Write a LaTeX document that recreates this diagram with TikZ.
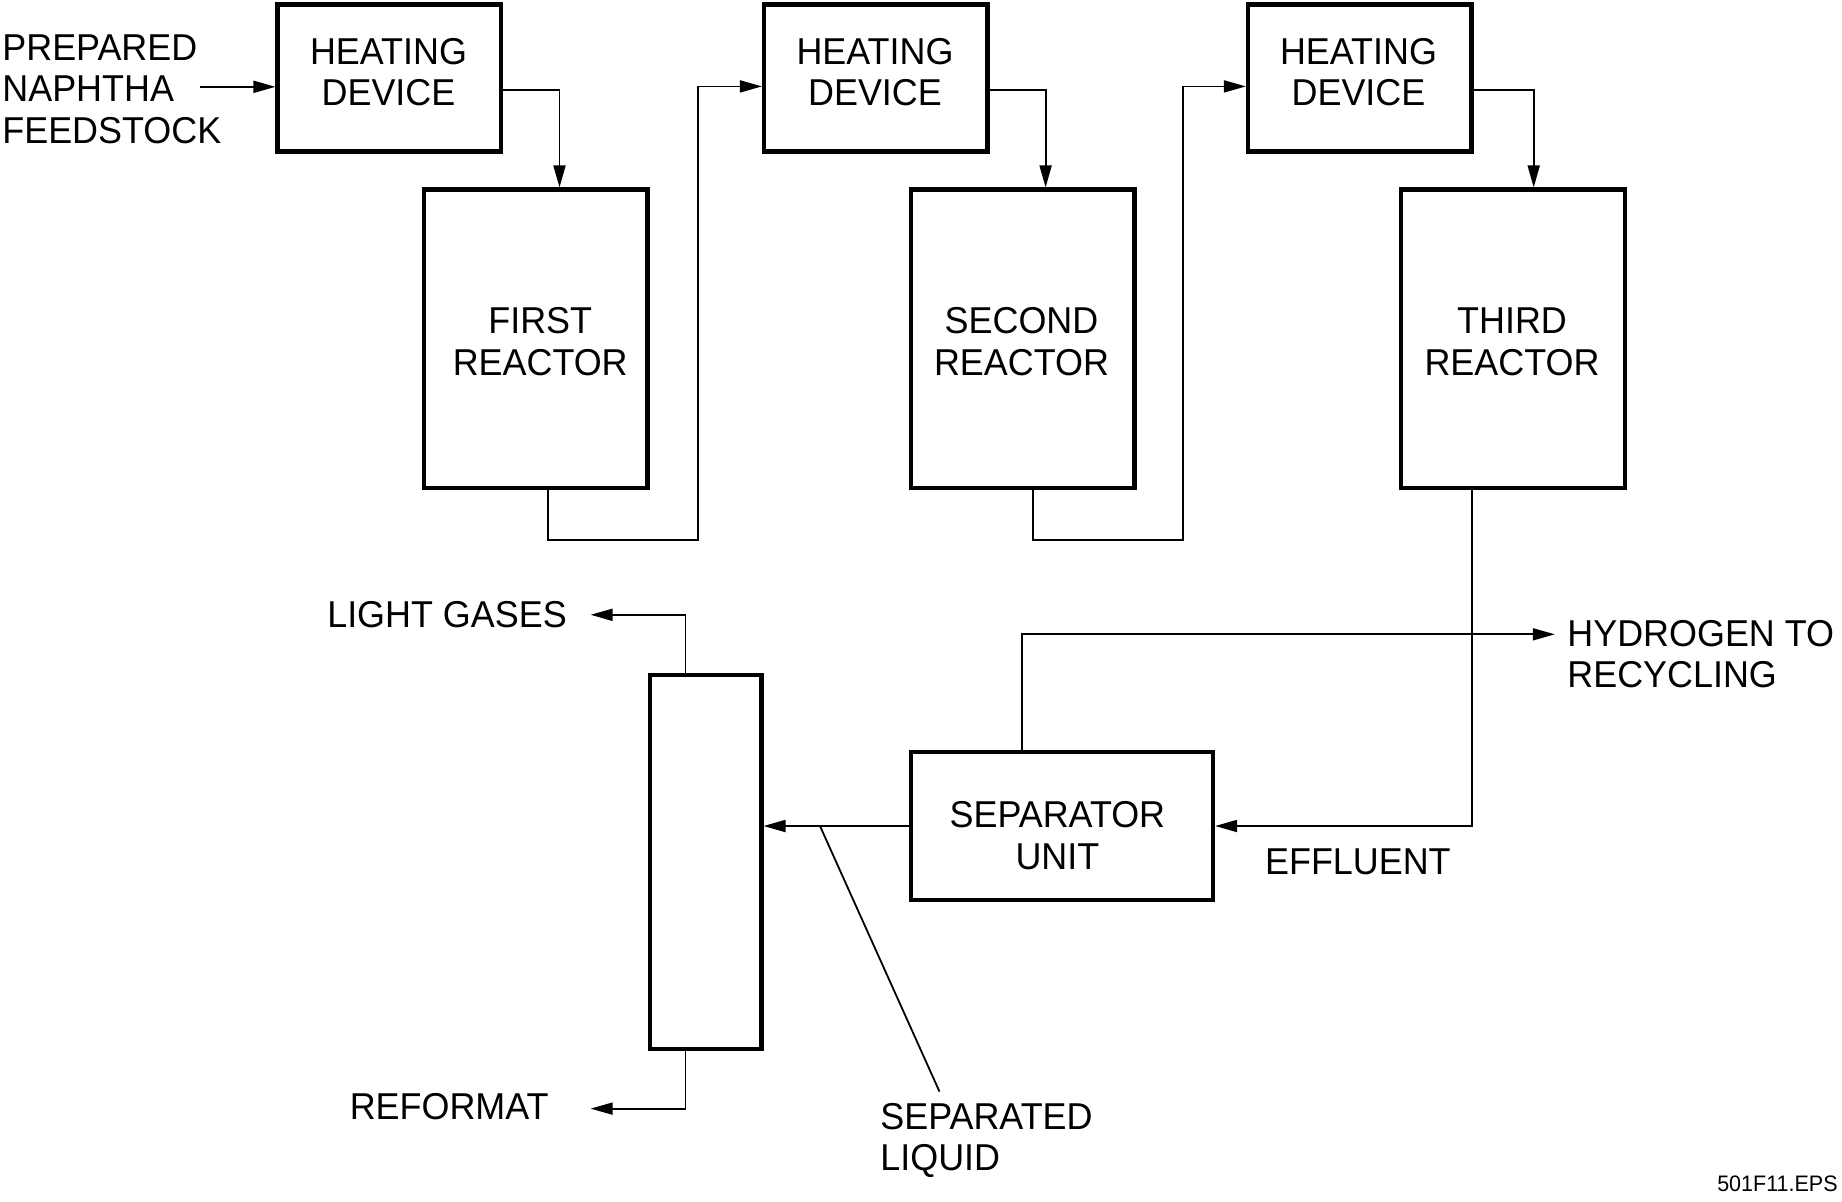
\documentclass[tikz,border=0pt]{standalone}
\usepackage{fontspec}
\setmainfont{Liberation Sans}[FakeStretch=0.96]
\usetikzlibrary{arrows.meta}
\begin{document}
\begin{tikzpicture}[x=0.5pt,y=-0.5pt,
  box/.style={draw,line width=2.1pt,inner sep=0pt,fill=white},
  heatbox/.style={box,minimum width=111.75pt,minimum height=73.5pt},
  reactbox/.style={box,minimum width=111.7pt,minimum height=149.25pt},
  colbox/.style={box,minimum width=55.7pt,minimum height=187pt},
  sepbox/.style={box,minimum width=151.1pt,minimum height=73.65pt},
  txt/.style={align=center,inner sep=0pt,font=\fontsize{18.7}{20.75}\selectfont},
  ltxt/.style={txt,align=left,anchor=west},
  flow/.style={line width=0.9pt},
  arr/.style={flow,-{Triangle[length=11pt,width=6pt]}}]
\fill[white] (0,0) rectangle (1842,1201);
\useasboundingbox (0,0) rectangle (1842,1201);

% boxes
\node[heatbox] (heat1) at (389.3,78) {};
\node[heatbox] (heat2) at (875.8,78) {};
\node[heatbox] (heat3) at (1359.7,78) {};
\node[reactbox] (r1) at (535.7,338.75) {};
\node[reactbox] (r2) at (1022.8,338.75) {};
\node[reactbox] (r3) at (1513,338.75) {};
\node[colbox] (col) at (705.7,862) {};
\node[sepbox] (sep) at (1061.9,826) {};

% box texts
\node[txt] (th1) at (388.5,72.3) {HEATING\\DEVICE};
\node[txt] (th2) at (875,72.3) {HEATING\\DEVICE};
\node[txt] (th3) at (1358.5,72.3) {HEATING\\DEVICE};
\node[txt] (tr1) at (540.2,341.7) {FIRST\\REACTOR};
\node[txt] (tr2) at (1021.5,341.7) {SECOND\\REACTOR};
\node[txt] (tr3) at (1512,341.7) {THIRD\\REACTOR};
\node[txt] (tsep) at (1057.4,835.4) {SEPARATOR\\UNIT};

% free ends
\coordinate (feed) at (199.7,86.8);
\coordinate (b1) at (697.7,540);
\coordinate (b2) at (1183,540);
\coordinate (h2) at (1554.8,634.3);
\coordinate (sl0) at (820,826);
\coordinate (sl1) at (939.5,1091.6);
\coordinate (lg) at (590.6,614.8);
\coordinate (rf) at (590.6,1108.6);

% connectors
\draw[arr] (feed) -- (feed -| heat1.west);
\draw[arr] ([yshift=-6pt]heat1.east) -| ([xshift=11.9pt]r1.north);
\draw[arr] ([xshift=5.95pt]r1.south) |- (b1) |- ([yshift=-4.2pt]heat2.west);
\draw[arr] ([yshift=-6pt]heat2.east) -| ([xshift=11.4pt]r2.north);
\draw[arr] ([xshift=5.1pt]r2.south) |- (b2) |- ([yshift=-4.2pt]heat3.west);
\draw[arr] ([yshift=-6pt]heat3.east) -| ([xshift=10.35pt]r3.north);
\draw[arr] ([xshift=-20.5pt]r3.south) |- (sep.east);
\draw[arr] ([xshift=-19.8pt]sep.north) |- (h2);
\draw[arr] (sep.west) -- (sep.west -| col.east);
\draw[flow] (sl0) -- (sl1);
\draw[arr] ([xshift=-10.1pt]col.north) |- (lg);
\draw[arr] ([xshift=-10.1pt]col.south) |- (rf);

% labels
\node[ltxt] (feedlbl) at (2,89.3) {PREPARED\\NAPHTHA\\FEEDSTOCK};
\node[ltxt] (lglbl) at (326.9,614.5) {LIGHT GASES};
\node[ltxt] (rflbl) at (349.4,1106.5) {REFORMAT};
\node[ltxt] (h2lbl) at (1567,654.3) {HYDROGEN TO\\RECYCLING};
\node[ltxt] (efflbl) at (1264.7,862) {EFFLUENT};
\node[ltxt] (sllbl) at (880,1140.4) {SEPARATED\\LIQUID};
\node[anchor=east,inner sep=0pt,font=\fontsize{11.2}{13}\selectfont] (figid) at (1838,1184) {501F11.EPS};
\end{tikzpicture}
\end{document}
